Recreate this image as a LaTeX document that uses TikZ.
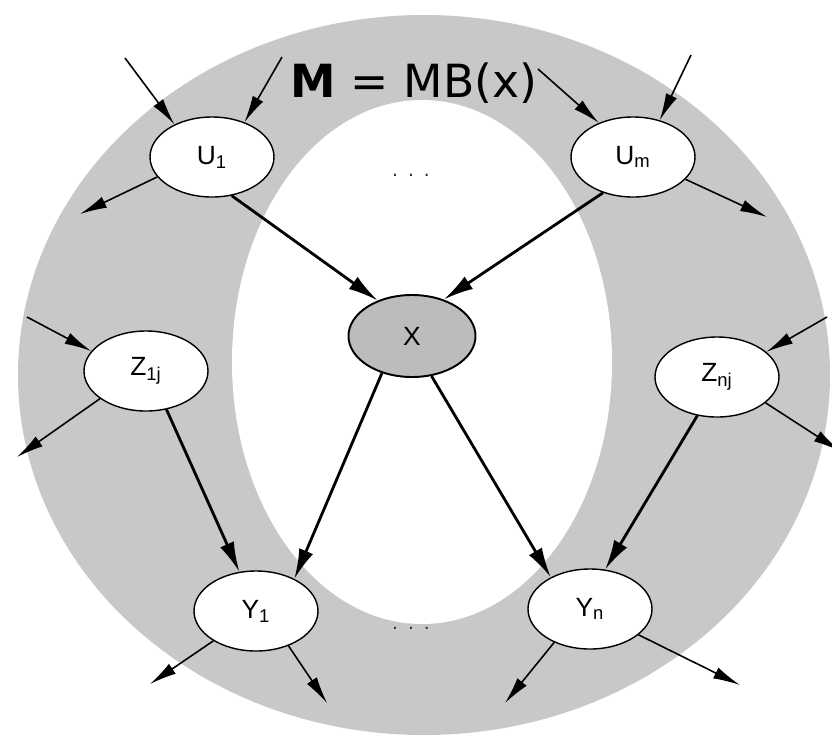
\documentclass[tikz,border=0pt]{standalone}
\usepackage{fontspec}
\setmainfont{Liberation Sans}
\newfontfamily\titlefont{DejaVu Sans}
\usepackage{tikz}
\usetikzlibrary{arrows.meta,positioning,shapes.geometric}
\definecolor{blanketGray}{RGB}{200,200,200}
\definecolor{targetGray}{RGB}{188,188,188}
\tikzset{
  mb node/.style={ellipse,draw=black,fill=white,line width=0.8pt,minimum width=24.8mm,minimum height=16mm,inner sep=0pt,font=\fontsize{15}{17}\selectfont},
  mb target/.style={mb node,fill=targetGray,line width=1.1pt,minimum width=25.4mm,minimum height=16.4mm},
  mb arrow/.style={-{Latex[length=6mm,width=3mm]},line width=1.6pt,draw=black},
  mb arrow thin/.style={-{Latex[length=5.4mm,width=2.4mm]},line width=0.9pt,draw=black},
  mb dots/.style={font=\fontsize{12}{14}\selectfont,text=black!80}
}
\begin{document}
\begin{tikzpicture}[x=0.2mm,y=-0.2mm]
        \useasboundingbox (0,0) rectangle (832,748);
        \fill[blanketGray] (424,375) ellipse [x radius=406,y radius=360];
        \fill[white] (422,362) ellipse [x radius=190,y radius=262];
        \node[font=\titlefont\fontsize{26}{30}\selectfont] (title) at (414,83) {\textbf{M} = MB(x)};
        \node[mb dots] (dotsU) at (411,175) {.\hspace{2mm}.\hspace{2mm}.};
        \node[mb dots] (dotsY) at (411,628) {.\hspace{2mm}.\hspace{2mm}.};
        \node[mb node] (u1) at (212,157) {U\textsubscript{1}};
        \node[mb node] (um) at (633,157) {U\textsubscript{m}};
        \node[mb node] (z1) at (146,371) {Z\textsubscript{1j}};
        \node[mb node] (zn) at (717,377) {Z\textsubscript{nj}};
        \node[mb node] (y1) at (256,611) {Y\textsubscript{1}};
        \node[mb node] (yn) at (590,609) {Y\textsubscript{n}};
        \node[mb target] (x) at (412,336) {X};
        \coordinate (u1inA) at (125,58);
        \coordinate (u1inB) at (282,57);
        \coordinate (u1out) at (80,214);
        \coordinate (uminA) at (538,69);
        \coordinate (uminB) at (691,55);
        \coordinate (umout) at (767,217);
        \coordinate (z1in) at (27,317);
        \coordinate (z1out) at (17,457);
        \coordinate (znin) at (827,317);
        \coordinate (znout) at (840,451);
        \coordinate (y1outA) at (150,684);
        \coordinate (y1outB) at (327,703);
        \coordinate (ynoutA) at (505,703);
        \coordinate (ynoutB) at (740,685);
        \draw[mb arrow thin] (u1inA) -- (u1.139);
        \draw[mb arrow thin] (u1inB) -- (u1.47);
        \draw[mb arrow thin] (u1.200) -- (u1out);
        \draw[mb arrow thin] (uminA) -- (um.135);
        \draw[mb arrow thin] (uminB) -- (um.54);
        \draw[mb arrow thin] (um.337) -- (umout);
        \draw[mb arrow thin] (z1in) -- (z1.160);
        \draw[mb arrow thin] (z1.211) -- (z1out);
        \draw[mb arrow thin] (znin) -- (zn.27);
        \draw[mb arrow thin] (zn.332) -- (znout);
        \draw[mb arrow thin] (y1.215) -- (y1outA);
        \draw[mb arrow thin] (y1.313) -- (y1outB);
        \draw[mb arrow thin] (yn.223) -- (ynoutA);
        \draw[mb arrow thin] (yn.332) -- (ynoutB);
        \draw[mb arrow] (u1.297) -- (x.134);
        \draw[mb arrow] (um.230) -- (x.49);
        \draw[mb arrow] (x.231) -- (y1.40);
        \draw[mb arrow] (x.296) -- (yn.141);
        \draw[mb arrow] (z1.298) -- (y1.113);
        \draw[mb arrow] (zn.243) -- (yn.69);
      \end{tikzpicture}
\end{document}
